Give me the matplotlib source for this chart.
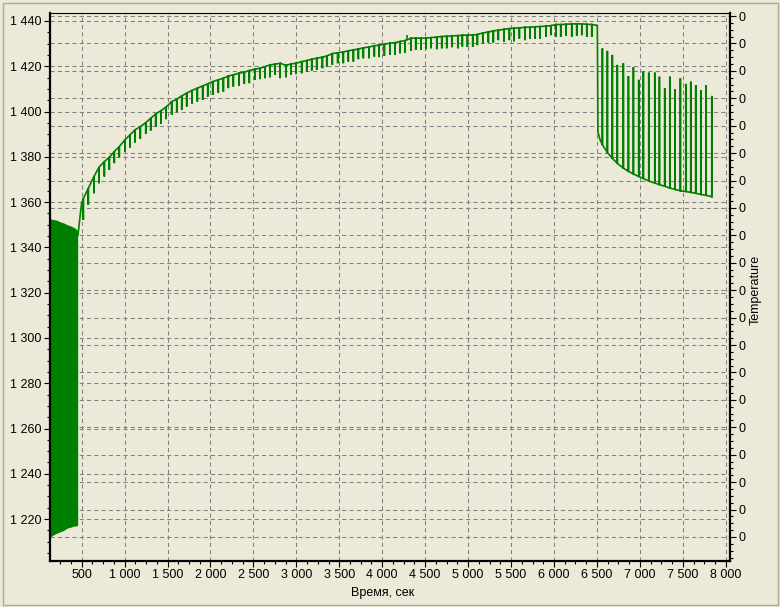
import numpy as np
import matplotlib
matplotlib.use('Agg')
import matplotlib.pyplot as plt
from matplotlib.ticker import FixedLocator, MultipleLocator, AutoMinorLocator, FuncFormatter
from matplotlib.patches import Rectangle

# ---------------- data ----------------
# dense oscillation block at the start: envelope
block_t = [131, 160, 210, 250, 290, 330, 370, 400, 430, 453]
block_hi = [1352.6, 1352.4, 1352.0, 1351.3, 1350.8, 1350.0, 1349.5, 1349.0, 1348.3, 1347.2]
block_lo = [1212.1, 1212.8, 1213.8, 1214.4, 1215.0, 1216.0, 1216.4, 1216.8, 1217.0, 1217.1]

# start of rising curve
start_t = [457, 470, 485, 500]
start_v = [1345.5, 1350.0, 1355.0, 1359.5]

# rising curve: times of the downward dips, level before dip, dip level
dip_t = [519, 577, 643, 702, 764, 822, 880, 938, 1004, 1063, 1121, 1183, 1246, 1304,
         1362, 1424, 1482, 1548, 1607, 1665, 1723, 1785,
         1847, 1909, 1968, 2026, 2091, 2150, 2208, 2266, 2332, 2394, 2452, 2519, 2577,
         2635, 2693, 2752, 2810, 2880, 2938, 2996, 3062, 3121, 3179, 3237, 3303, 3354,
         3419, 3481, 3547, 3605, 3664, 3722, 3780, 3847, 3908, 3963, 4025, 4091, 4149,
         4207, 4266, 4336, 4390, 4452, 4510, 4569, 4635, 4693, 4751, 4810, 4880, 4933,
         4992, 5054, 5108, 5171, 5236, 5294, 5352, 5419, 5481, 5535, 5597, 5663, 5722,
         5780, 5838, 5908, 5963, 6024, 6079, 6141, 6207, 6265, 6324, 6382, 6440]
dip_base = [1361.5, 1366.1, 1371.3, 1375.4, 1377.9, 1379.8, 1382.3, 1384.5, 1387.5, 1389.7,
            1391.9, 1393.3, 1395.1, 1397.0, 1398.9, 1400.4, 1401.9, 1404.4, 1405.4, 1406.9,
            1408.1, 1409.3,
            1410.3, 1411.3, 1412.2, 1413.2, 1414.0, 1414.7, 1415.7, 1416.2, 1416.9, 1417.4,
            1418.1, 1418.7, 1419.1, 1419.8, 1420.6, 1420.9, 1421.3, 1420.4, 1421.0, 1421.3,
            1422.0, 1422.5, 1423.1, 1423.5, 1424.0, 1424.5,
            1425.6, 1425.9, 1426.3, 1426.8, 1427.2, 1427.6, 1428.1, 1428.5, 1429.0, 1429.3,
            1429.7, 1430.2, 1430.4, 1430.9, 1431.3, 1432.4, 1432.4, 1432.4, 1432.4, 1432.6,
            1432.9, 1433.1, 1433.2, 1433.4, 1433.5, 1433.7,
            1433.7, 1433.8, 1434.0, 1434.7, 1435.1, 1435.6, 1435.9, 1436.3, 1436.6, 1436.8,
            1436.9, 1437.2, 1437.2, 1437.4, 1437.5, 1437.7, 1437.9, 1438.4, 1438.4, 1438.5,
            1438.7, 1438.7, 1438.7, 1438.5, 1438.4]
dip_low = [1352.1, 1358.8, 1363.9, 1368.3, 1371.3, 1374.2, 1377.2, 1379.8, 1382.3, 1384.1,
           1386.3, 1387.9, 1390.1, 1391.6, 1393.3, 1394.5, 1396.6, 1398.5, 1399.7, 1400.7,
           1402.2, 1403.5,
           1404.4, 1405.1, 1406.6, 1407.3, 1408.3, 1408.8, 1410.3, 1411.0, 1411.4, 1412.2,
           1412.5, 1414.0, 1414.3, 1414.7, 1415.1, 1416.2, 1414.7, 1415.1, 1416.2, 1416.5,
           1416.9, 1417.6, 1418.1, 1418.4, 1419.1, 1419.8,
           1420.6, 1421.3, 1421.3, 1422.0, 1422.0, 1423.1, 1423.5, 1423.5, 1424.2, 1424.0,
           1424.5, 1425.0, 1425.0, 1425.7, 1426.0, 1426.9, 1427.2, 1427.2, 1427.5, 1427.9,
           1427.5, 1427.9, 1427.9, 1428.4, 1427.9, 1428.7,
           1428.5, 1428.5, 1429.3, 1430.0, 1430.4, 1430.4, 1431.5, 1430.7, 1431.5, 1431.0,
           1432.2, 1431.5, 1432.2, 1432.2, 1432.2, 1432.9, 1433.7, 1432.9, 1432.9, 1433.4,
           1432.9, 1433.4, 1433.7, 1432.9, 1432.9]

# small upward blip on the rising curve
blip_t = [4290]
blip_lo = [1431.4]
blip_hi = [1433.6]

# plateau end and drop
plateau_t = [6498, 6505, 6512, 6537]
plateau_v = [1438.1, 1438.0, 1391.0, 1387.5]

# decay curve: upward spikes (time, level at base, spike top)
spike_t = [6564, 6622, 6680, 6738, 6808, 6867, 6925, 6987, 7041, 7104, 7174, 7228,
           7290, 7349, 7410, 7472, 7535, 7593, 7651, 7710, 7772, 7838]
spike_base = [1385.3, 1381.9, 1379.3, 1377.1, 1375.0, 1373.6, 1372.4, 1371.3, 1370.4,
              1369.3, 1368.4, 1367.7, 1367.0, 1366.2, 1365.6, 1365.0, 1364.7, 1364.3,
              1363.9, 1363.4, 1363.0, 1362.4]
spike_top = [1427.9, 1426.8, 1425.0, 1420.6, 1421.3, 1415.7, 1419.6, 1414.0, 1417.6,
             1417.2, 1417.2, 1415.4, 1410.3, 1415.4, 1409.8, 1414.7, 1412.2, 1413.2,
             1411.7, 1409.5, 1411.7, 1406.9]

x_ticks = [500, 1000, 1500, 2000, 2500, 3000, 3500, 4000, 4500, 5000, 5500, 6000, 6500,
           7000, 7500, 8000]
y_ticks = [1220, 1240, 1260, 1280, 1300, 1320, 1340, 1360, 1380, 1400, 1420, 1440]
temp_ticks = list(range(20))
temp_labels = ['0'] * 20

# ---------------- style ----------------
BG = '#ECE9D8'
GREEN = '#008000'
GRID = '#808080'
plt.rcParams['font.family'] = ['Liberation Sans', 'DejaVu Sans']
plt.rcParams['font.size'] = 9

fig = plt.figure(figsize=(7.8, 6.07), dpi=100, facecolor=BG)
ax_t = fig.add_axes([50 / 780, 46 / 607, 680 / 780, 548 / 607])
ax_t.set_facecolor(BG)
ax_d = ax_t.twinx()
ax_t.yaxis.tick_right()
ax_t.yaxis.set_label_position('right')
ax_d.yaxis.tick_left()
ax_d.yaxis.set_label_position('left')
ax_d.patch.set_visible(False)

grid_kw = dict(color=GRID, linestyle=(0, (4, 3)), linewidth=0.75)

# temperature axis (right) + x axis
ax_t.set_xlim(131, 8050)
ax_t.xaxis.set_major_locator(FixedLocator(x_ticks))
ax_t.xaxis.set_minor_locator(MultipleLocator(125))
ax_t.xaxis.set_major_formatter(FuncFormatter(lambda v, p: f'{int(round(v)):,}'.replace(',', ' ')))
ax_t.set_ylim(-0.876, 19.11)
ax_t.set_yticks(temp_ticks)
ax_t.set_yticklabels(temp_labels)
ax_t.yaxis.set_minor_locator(AutoMinorLocator(4))
ax_t.grid(True, which='major', axis='both', **grid_kw)
ax_t.set_axisbelow(True)

# data axis (left)
ax_d.set_ylim(1201.5, 1443.5)
ax_d.yaxis.set_major_locator(FixedLocator(y_ticks))
ax_d.yaxis.set_minor_locator(MultipleLocator(5))
ax_d.yaxis.set_major_formatter(FuncFormatter(lambda v, p: f'{int(round(v)):,}'.replace(',', ' ')))
ax_d.grid(True, which='major', axis='y', **grid_kw)
ax_d.set_axisbelow(True)

for a in (ax_t, ax_d):
    a.tick_params(which='major', direction='out', length=4, width=0.8, pad=2, colors='black')
    a.tick_params(which='minor', direction='out', length=2.5, width=0.8, colors='black')
for s in ax_t.spines.values():
    s.set_visible(False)
for side in ('left', 'right', 'bottom'):
    ax_d.spines[side].set_linewidth(1.6)
ax_d.spines['top'].set_linewidth(0.8)

# ---------------- data drawing ----------------
ax_d.fill_between(block_t, block_lo, block_hi, color=GREEN, linewidth=0)

xs = list(start_t)
ys = list(start_v)
for t, b, d in zip(dip_t, dip_base, dip_low):
    xs += [t, t, t]
    ys += [b, d, b]
xs += plateau_t
ys += plateau_v
for t, b, s in zip(spike_t, spike_base, spike_top):
    xs += [t, t, t]
    ys += [b, s, b]
ax_d.plot(xs, ys, color=GREEN, linewidth=1.2, solid_joinstyle='miter')
ax_d.vlines(blip_t, blip_lo, blip_hi, color=GREEN, linewidth=1.2)

# ---------------- labels ----------------
fig.text(383 / 780, 1 - 593 / 607, 'Время, сек', ha='center', va='center', fontsize=9)
fig.text(756 / 780, 1 - 290 / 607, 'Temperature', rotation=90, ha='center', va='center', fontsize=9)

fig.patches.append(Rectangle((2.5 / 780, 2.5 / 607), 775 / 780, 602 / 607,
                             transform=fig.transFigure, fill=False,
                             edgecolor='#ACA899', linewidth=1))

fig.savefig('out.png', dpi=100, facecolor=BG)
